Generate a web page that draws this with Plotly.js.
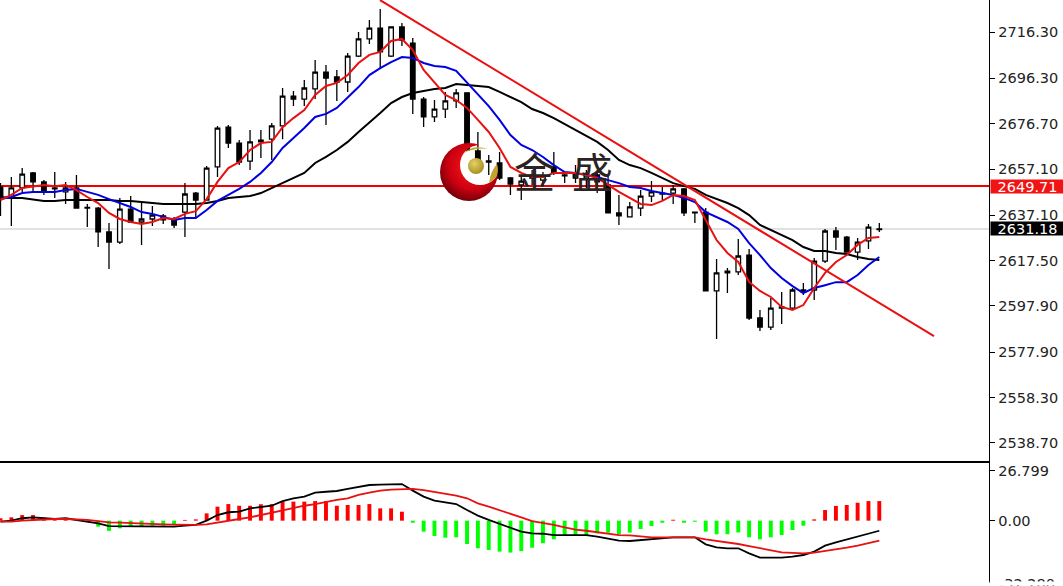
<!DOCTYPE html>
<html>
<head>
<meta charset="utf-8">
<script src="https://cdn.plot.ly/plotly-3.0.1.min.js"></script>
<style>html,body{margin:0;padding:0;background:#fff;overflow:hidden}</style>
</head>
<body>
<div id="chart" style="width:1063px;height:586px"></div>
<script>
const openPrice = [2649.3,2644.6,2648.9,2655.4,2651.5,2648.9,2647.2,2648.9,2640.5,2640.2,2629.9,2625.5,2639.8,2634.2,2635.5,2636.8,2635.1,2638.5,2646.7,2643.7,2658.0,2675.2,2668.3,2660.5,2668.8,2670.0,2675.7,2688.6,2687.3,2691.7,2699.0,2696.9,2694.7,2705.9,2713.3,2718.0,2705.9,2718.5,2711.5,2687.3,2679.6,2683.0,2686.5,2690.0,2664.9,2660.6,2659.7,2653.2,2650.2,2654.5,2652.3,2658.0,2654.5,2655.4,2653.2,2654.5,2650.2,2638.1,2636.4,2640.2,2645.4,2646.3,2646.7,2648.5,2638.5,2638.5,2604.4,2612.2,2612.6,2619.9,2592.7,2588.8,2597.0,2597.0,2604.8,2604.8,2617.3,2630.3,2627.7,2621.2,2626.0,2630.9];
const highPrice = [2651.0,2653.6,2657.5,2655.8,2652.3,2655.8,2651.5,2654.5,2642.0,2640.7,2633.8,2644.6,2645.4,2643.3,2641.1,2637.7,2636.4,2651.0,2647.2,2658.4,2675.7,2676.1,2669.6,2673.9,2673.9,2677.0,2692.1,2690.8,2695.6,2704.2,2702.0,2699.9,2707.2,2716.3,2721.5,2726.2,2718.5,2720.2,2713.7,2688.2,2686.9,2690.4,2691.7,2690.0,2673.1,2663.1,2664.4,2653.6,2653.6,2656.7,2655.8,2664.4,2655.4,2658.8,2656.7,2656.7,2654.5,2645.9,2642.8,2648.0,2651.9,2649.3,2650.2,2648.9,2638.5,2640.2,2618.2,2614.3,2626.8,2622.5,2596.2,2601.4,2603.9,2605.7,2607.8,2618.6,2631.2,2632.0,2628.1,2627.3,2633.3,2633.8];
const lowPrice = [2636.8,2632.5,2647.2,2647.2,2645.9,2644.6,2642.0,2640.2,2632.0,2623.4,2613.9,2624.7,2633.8,2624.3,2632.5,2633.3,2631.6,2627.7,2635.9,2643.7,2653.6,2666.2,2658.8,2656.7,2661.9,2661.0,2670.0,2684.3,2684.3,2687.3,2676.1,2686.5,2690.4,2705.5,2711.1,2700.7,2705.5,2710.2,2680.9,2675.2,2677.4,2679.1,2683.5,2665.3,2658.8,2654.5,2652.3,2645.9,2643.7,2650.2,2649.7,2654.5,2651.0,2651.0,2648.9,2646.7,2638.1,2632.9,2636.4,2636.8,2642.8,2643.7,2642.0,2636.8,2633.8,2604.4,2583.6,2603.5,2611.3,2591.8,2587.1,2587.5,2590.1,2596.6,2602.6,2600.5,2616.5,2622.1,2621.2,2617.8,2622.5,2629.9];
const closePrice = [2644.6,2648.9,2654.9,2651.5,2647.2,2648.5,2648.9,2640.2,2640.2,2629.9,2625.5,2639.8,2634.2,2635.5,2637.2,2635.1,2632.9,2646.3,2643.7,2657.5,2674.8,2668.3,2660.1,2668.8,2669.6,2675.7,2688.6,2687.3,2692.1,2699.0,2696.4,2694.7,2705.9,2713.3,2718.0,2707.7,2718.5,2712.8,2687.3,2679.6,2683.0,2686.5,2690.0,2665.3,2661.0,2660.1,2653.2,2650.6,2651.9,2653.2,2654.1,2655.4,2654.1,2653.2,2654.5,2651.5,2638.1,2636.8,2640.7,2645.4,2647.2,2646.7,2648.5,2638.1,2638.1,2604.4,2612.2,2613.0,2619.5,2592.7,2588.8,2597.0,2597.5,2604.8,2603.9,2617.3,2630.3,2627.7,2621.2,2625.5,2632.0,2631.18];

const maBlue = [2644.1,2645.0,2646.7,2647.2,2647.2,2647.2,2648.0,2648.5,2647.2,2645.9,2644.1,2642.4,2640.7,2638.5,2637.7,2636.4,2635.1,2635.9,2635.9,2639.4,2643.3,2645.9,2648.5,2651.5,2655.4,2660.1,2666.2,2670.5,2674.8,2679.6,2680.9,2683.5,2688.2,2692.5,2697.7,2700.7,2703.3,2705.5,2705.1,2702.9,2701.6,2701.2,2699.5,2694.3,2689.1,2684.3,2678.3,2671.8,2667.5,2665.3,2662.3,2658.8,2655.8,2655.4,2654.5,2653.6,2652.3,2651.0,2649.3,2648.9,2647.6,2646.7,2645.9,2644.6,2642.8,2638.5,2636.4,2634.2,2631.2,2625.1,2619.9,2614.3,2610.0,2606.5,2603.5,2605.7,2606.9,2608.2,2608.2,2611.3,2615.6,2619.1];
const maRed = [2643.7,2645.9,2648.9,2649.7,2650.2,2649.7,2650.2,2648.0,2645.0,2642.4,2638.1,2635.5,2634.2,2633.3,2634.2,2635.9,2635.5,2637.7,2638.9,2644.1,2651.5,2657.5,2660.1,2665.3,2668.3,2668.8,2675.2,2679.1,2682.6,2689.1,2693.0,2694.3,2697.7,2702.9,2706.4,2707.7,2712.4,2713.3,2708.5,2699.9,2694.7,2689.1,2686.9,2683.5,2678.3,2673.1,2666.2,2658.0,2655.4,2653.6,2653.6,2655.4,2655.4,2655.4,2654.5,2653.2,2650.2,2647.2,2644.6,2642.0,2641.5,2643.3,2645.9,2645.4,2643.7,2635.1,2626.4,2620.8,2616.9,2608.3,2604.4,2601.8,2597.5,2596.2,2598.3,2605.7,2612.2,2616.9,2619.9,2624.3,2627.3,2627.7];
const maBlack = [2645.0,2644.6,2644.6,2644.1,2643.3,2643.3,2643.7,2643.7,2643.7,2643.7,2643.7,2643.3,2643.3,2642.8,2642.4,2642.0,2642.0,2642.0,2642.0,2642.4,2643.3,2644.6,2645.0,2645.4,2646.7,2648.9,2651.0,2653.2,2655.4,2659.7,2662.3,2665.3,2668.8,2673.1,2677.0,2681.3,2685.6,2688.2,2689.9,2690.8,2691.7,2692.1,2693.8,2693.4,2693.0,2692.5,2690.4,2688.2,2686.0,2683.0,2681.3,2679.1,2676.5,2673.9,2671.4,2668.8,2665.3,2661.0,2658.8,2657.5,2655.4,2653.2,2651.0,2649.7,2648.5,2645.9,2644.1,2642.4,2640.2,2637.2,2632.9,2630.7,2628.6,2626.4,2623.4,2621.7,2621.7,2620.8,2620.4,2619.1,2618.2,2617.8];

const macdHist = [1.3,1.8,3.0,3.0,1.6,1.3,0.5,-0.2,-0.5,-3.2,-5.5,-4.1,-2.9,-2.9,-2.7,-2.7,-2.3,0.4,0.7,3.9,7.5,8.9,8.0,8.0,8.8,8.9,10.2,10.2,10.2,10.5,10.5,8.0,8.4,8.4,8.9,6.6,6.6,4.8,-1.1,-5.9,-8.2,-9.1,-8.9,-12.5,-14.8,-15.7,-16.6,-17.1,-16.3,-14.5,-12.1,-10.0,-8.2,-8.2,-7.7,-6.8,-6.4,-7.3,-6.4,-4.5,-2.9,-1.1,0.5,-1.1,-0.6,-5.9,-7.3,-7.3,-6.3,-8.9,-10.0,-8.9,-7.7,-5.0,-2.7,0.7,5.7,7.9,8.4,9.6,10.5,10.5];
const macdLine = [-0.5,0,1.3,1.8,1.3,0.9,1.3,0.4,-0.2,-1.4,-2.9,-2.9,-3.2,-3.2,-3.2,-3.2,-3.2,-2.7,-2.3,0,3.0,4.5,4.8,6.6,7.5,8.0,10.5,12.0,12.9,15.0,15.5,15.9,17.0,17.9,19.1,19.3,19.6,19.6,16.1,12.9,10.7,9.6,8.9,5.7,2.7,0.4,-1.8,-4.1,-5.9,-6.8,-7.0,-7.7,-7.7,-7.7,-7.7,-8.6,-9.5,-10.7,-10.9,-10.4,-9.8,-9.1,-8.9,-8.9,-8.9,-12.7,-14.3,-14.8,-14.8,-17.5,-19.8,-19.8,-19.8,-19.3,-18.4,-16.6,-13.4,-11.6,-10.0,-8.6,-6.8,-5.4];
const macdSignal = [-0.5,-0.5,0,0.4,0.7,0.9,0.9,0.7,0.4,-0.2,-0.9,-1.1,-1.4,-1.6,-1.8,-2.0,-2.1,-2.3,-2.3,-2.0,-0.9,0,0.9,1.8,3.0,4.3,5.7,7.0,8.0,8.9,10.2,11.1,12.0,13.8,15.0,16.1,16.6,16.8,17.0,16.4,15.5,14.3,13.4,12.0,9.3,7.5,5.7,3.9,1.8,-0.2,-1.1,-2.3,-3.6,-4.8,-5.4,-6.3,-7.0,-7.7,-7.9,-8.6,-8.9,-8.9,-8.9,-8.9,-8.9,-10.0,-10.7,-11.8,-12.5,-13.6,-14.8,-15.9,-17.0,-17.3,-17.5,-17.1,-16.3,-15.4,-14.5,-13.4,-12.1,-10.7];

const trendX = [34.98, 86.04];
const trendY = [2730.1, 2584.9];
const levelRed = 2649.71;
const levelLast = 2631.18;

const priceTicks = [2716.30,2696.30,2676.70,2657.10,2637.10,2617.50,2597.90,2577.90,2558.30,2538.70];
const priceLabels = ['2716.30','2696.30','2676.70','2657.10','2637.10','2617.50','2597.90','2577.90','2558.30','2538.70'];
const macdTicks = [26.799, 0];
const macdLabels = ['26.799','0.00'];
const macdMinLabel = '-32.280';

const index = openPrice.map((_, i) => i);
const font = 'DejaVu Sans, Verdana, sans-serif';

const logo = '<svg xmlns="http://www.w3.org/2000/svg" width="60" height="60" viewBox="0 0 60 60">' +
 '<defs><radialGradient id="r" cx="55%" cy="40%" r="62%"><stop offset="0%" stop-color="#ff1a1a"/><stop offset="65%" stop-color="#cc0010"/><stop offset="100%" stop-color="#6e0008"/></radialGradient>' +
 '<radialGradient id="g" cx="40%" cy="35%" r="70%"><stop offset="0%" stop-color="#e6d268"/><stop offset="100%" stop-color="#a38a1c"/></radialGradient>' +
 '<mask id="m"><rect width="60" height="60" fill="#fff"/><circle cx="40" cy="23" r="20" fill="#000"/></mask></defs>' +
 '<circle cx="29" cy="30" r="29" fill="url(#r)" mask="url(#m)"/>' +
 '<circle cx="36" cy="24" r="8" fill="url(#g)"/>' +
 '<path d="M24 11 Q33 2 48 7 Q36 5 24 11 Z M49 41 Q51 28 57 22 Q61 35 49 41 Z" fill="#bfa52e"/></svg>';

const traces = [
  {type:'candlestick', x:index, open:openPrice, high:highPrice, low:lowPrice, close:closePrice,
   increasing:{line:{color:'#000',width:1.3}, fillcolor:'#fff'},
   decreasing:{line:{color:'#000',width:1.3}, fillcolor:'#000'},
   whiskerwidth:0, hoverinfo:'skip', showlegend:false, xaxis:'x', yaxis:'y'},
  {type:'scatter', mode:'lines', x:index, y:maBlack, line:{color:'#000',width:2}, hoverinfo:'skip', xaxis:'x', yaxis:'y'},
  {type:'scatter', mode:'lines', x:index, y:maBlue, line:{color:'#0000e0',width:2}, hoverinfo:'skip', xaxis:'x', yaxis:'y'},
  {type:'scatter', mode:'lines', x:index, y:maRed, line:{color:'#e81010',width:2}, hoverinfo:'skip', xaxis:'x', yaxis:'y'},
  {type:'scatter', mode:'lines', x:trendX, y:trendY, line:{color:'#e81010',width:2}, hoverinfo:'skip', xaxis:'x', yaxis:'y'},
  {type:'bar', x:index, y:macdHist, width:0.36, marker:{color:macdHist.map(v => v >= 0 ? '#ff0000' : '#00ff00'), line:{width:0}}, hoverinfo:'skip', xaxis:'x2', yaxis:'y2'},
  {type:'scatter', mode:'lines', x:index, y:macdLine, line:{color:'#000',width:1.8}, hoverinfo:'skip', xaxis:'x2', yaxis:'y2'},
  {type:'scatter', mode:'lines', x:index, y:macdSignal, line:{color:'#e81010',width:1.8}, hoverinfo:'skip', xaxis:'x2', yaxis:'y2'}
];

const baseX = {range:[-0.046,91.11], showticklabels:false, ticks:'', showgrid:false, zeroline:false,
  showline:true, linecolor:'#000', linewidth:1.2, rangeslider:{visible:false}, fixedrange:true};
const baseY = {side:'right', showgrid:false, zeroline:false, showline:true, linecolor:'#000', linewidth:1.4,
  ticks:'outside', ticklen:5, tickwidth:1, tickcolor:'#000', tickmode:'array',
  tickfont:{family:font,size:14.5,color:'#222'}, fixedrange:true};

const tag = (value, bg) => ({xref:'paper', yref:'y', x:1.0015, y:value, xanchor:'left', yanchor:'middle',
  text:value.toFixed(2), showarrow:false, bgcolor:bg, width:73, height:13, borderpad:0, align:'center',
  font:{family:font,size:14.5,color:'#fff'}});
const mark = (ch, x) => ({xref:'paper', yref:'paper', x:x, y:0.7095, xanchor:'center', yanchor:'middle',
  text:ch, showarrow:false, font:{family:'Noto Sans CJK SC, sans-serif',size:41,color:'#2b2323'}});

const layout = {
  width:1063, height:586, margin:{l:0,r:74,t:0,b:0,pad:0}, paper_bgcolor:'#fff', plot_bgcolor:'#fff',
  showlegend:false, hovermode:false, dragmode:false, boxgap:0.4, barmode:'overlay',
  xaxis:Object.assign({}, baseX, {anchor:'y', domain:[0,1], side:'bottom'}),
  yaxis:Object.assign({}, baseY, {anchor:'x', domain:[0.2133,1], range:[2530.91,2730.13], tickvals:priceTicks, ticktext:priceLabels}),
  xaxis2:Object.assign({}, baseX, {anchor:'y2', domain:[0,1], side:'top'}),
  yaxis2:Object.assign({}, baseY, {anchor:'x2', domain:[0.00512,0.2099], range:[-33.4,30.9], tickvals:macdTicks, ticktext:macdLabels}),
  shapes:[
    {type:'line', xref:'paper', x0:0, x1:1, yref:'y', y0:levelLast, y1:levelLast, line:{color:'#c4c4c4',width:1}, layer:'below'},
    {type:'line', xref:'paper', x0:0, x1:1, yref:'y', y0:levelRed, y1:levelRed, line:{color:'#f00000',width:2}, layer:'below'}
  ],
  annotations:[
    tag(levelRed, '#f01414'), tag(levelLast, '#000'),
    mark('金', 0.54), mark('盛', 0.5995),
    {xref:'paper', yref:'paper', x:1.0085, y:0.0, xanchor:'left', yanchor:'middle', yshift:2, text:macdMinLabel, showarrow:false,
     font:{family:font,size:14.5,color:'#222'}},
    {xref:'paper', yref:'paper', x:1.0, y:0, xanchor:'left', yanchor:'bottom', text:'\u00a0', showarrow:false,
     width:74, height:3, borderpad:0, bgcolor:'#fff', font:{size:1}}
  ],
  images:[{source:'data:image/svg+xml;utf8,' + encodeURIComponent(logo), xref:'paper', yref:'paper',
    x:440/989, y:1-142/586, sizex:60/989, sizey:60/586, sizing:'stretch', xanchor:'left', yanchor:'top', layer:'above'}]
};

Plotly.newPlot('chart', traces, layout, {displayModeBar:false, staticPlot:true});
</script>
</body>
</html>
